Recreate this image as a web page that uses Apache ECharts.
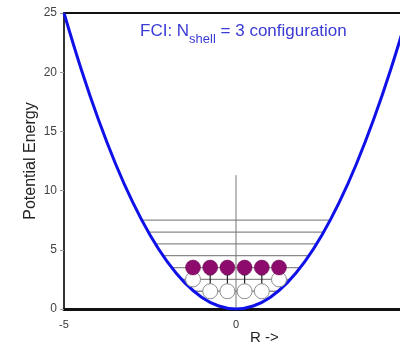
<!DOCTYPE html>
<html>
<head>
<meta charset="utf-8">
<script src="https://cdn.jsdelivr.net/npm/echarts@6/dist/echarts.min.js"></script>
<style>
  html, body { margin: 0; padding: 0; background: #fff; }
  #cht { width: 400px; height: 345px; }
</style>
</head>
<body>
<div id="cht"></div>
<script>
// potential curve (R, energy)
var curveR = [-5, -4.5, -4, -3.5, -3, -2.5, -2, -1.5, -1, -0.5, 0, 0.5, 1, 1.5, 2, 2.5, 3, 3.5, 4, 4.5, 5];
var curveV = [25, 20.25, 16, 12.25, 9, 6.25, 4, 2.25, 1, 0.25, 0, 0.25, 1, 2.25, 4, 6.25, 9, 12.25, 16, 20.25, 25];

// energy levels and their half widths (where they meet the curve)
var levelE = [1.5, 2.5, 3.5, 4.5, 5.5, 6.5, 7.5];
var levelHalf = [1.22, 1.58, 1.87, 2.12, 2.35, 2.55, 2.74];

// central marker line
var centerTop = 11.3;

// filled (occupied) orbitals
var filledR = [-1.25, -0.75, -0.25, 0.25, 0.75, 1.25];
var filledE = [3.5, 3.5, 3.5, 3.5, 3.5, 3.5];

// empty orbitals
var emptyR = [-1.25, 1.25, -0.75, -0.25, 0.25, 0.75];
var emptyE = [2.5, 2.5, 1.5, 1.5, 1.5, 1.5];

// excitation links
var linkR = [-0.75, -0.25, 0.25, 0.75];
var linkTop = 3.1;
var linkBottom = 1.9;

var series = [];

series.push({
  type: 'line',
  data: curveR.map(function (r, i) { return [r, curveV[i]]; }),
  smooth: 0.4,
  showSymbol: false,
  lineStyle: { color: '#1010e8', width: 3 },
  z: 5,
  silent: true
});

levelE.forEach(function (e, i) {
  series.push({
    type: 'line',
    data: [[-levelHalf[i], e], [levelHalf[i], e]],
    showSymbol: false,
    lineStyle: { color: '#8a8a8a', width: 1.3 },
    z: 2,
    silent: true
  });
});

series.push({
  type: 'line',
  data: [[0, 0], [0, centerTop]],
  showSymbol: false,
  lineStyle: { color: '#777', width: 1 },
  z: 2,
  silent: true
});

linkR.forEach(function (r) {
  series.push({
    type: 'line',
    data: [[r, linkTop], [r, linkBottom]],
    showSymbol: false,
    lineStyle: { color: '#222', width: 1.2 },
    z: 3,
    silent: true
  });
});

series.push({
  type: 'scatter',
  data: linkR.map(function (r) { return [r, linkTop]; }),
  symbol: 'rect',
  symbolSize: 5,
  itemStyle: { color: '#fff', borderColor: '#222', borderWidth: 1, opacity: 1 },
  z: 4,
  silent: true
});

series.push({
  type: 'scatter',
  data: emptyR.map(function (r, i) { return [r, emptyE[i]]; }),
  symbolSize: 15,
  itemStyle: { color: '#fff', borderColor: '#8c8c8c', borderWidth: 1, opacity: 1 },
  z: 6,
  silent: true
});

series.push({
  type: 'scatter',
  data: filledR.map(function (r, i) { return [r, filledE[i]]; }),
  symbolSize: 15,
  itemStyle: { color: '#8c0b6c', borderColor: '#6a0a52', borderWidth: 0.5, opacity: 1 },
  z: 7,
  silent: true
});

var option = {
  animation: false,
  textStyle: { fontFamily: 'Liberation Sans, Arial, sans-serif' },
  grid: {
    left: 64, top: 13, width: 344, height: 296,
    outerBoundsMode: 'none',
    containLabel: false,
    show: true, borderColor: '#111', borderWidth: 2
  },
  xAxis: {
    type: 'value', min: -5, max: 5, interval: 5,
    axisLine: { show: true, onZero: false, lineStyle: { color: '#111', width: 3 } },
    axisTick: { show: false },
    splitLine: { show: false },
    axisLabel: { color: '#333', fontSize: 11, margin: 10 }
  },
  yAxis: {
    type: 'value', min: 0, max: 25, interval: 5,
    name: 'Potential Energy',
    nameLocation: 'middle',
    nameGap: 25,
    nameMoveOverlap: false,
    nameTextStyle: { color: '#222', fontSize: 16 },
    axisLine: { show: true, onZero: false, lineStyle: { color: '#333', width: 2 } },
    axisTick: { show: true, length: 4, lineStyle: { color: '#999' } },
    splitLine: { show: false },
    axisLabel: { color: '#444', fontSize: 12, margin: 7 }
  },
  graphic: [
    {
      type: 'text', left: 140, top: 23,
      style: {
        text: '{a|FCI: N}{s|shell}{a| = 3 configuration}',
        rich: {
          a: { fontSize: 17, fill: '#3b3bd6', lineHeight: 23, verticalAlign: 'top', fontFamily: 'Liberation Sans' },
          s: { fontSize: 13, fill: '#3b3bd6', lineHeight: 23, verticalAlign: 'bottom', fontFamily: 'Liberation Sans' }
        }
      }
    },
    {
      type: 'text', left: 250, top: 330,
      style: { text: 'R ->', fontSize: 15, fill: '#222', fontFamily: 'Liberation Sans' }
    }
  ],
  series: series
};

window.onload = function () {
  var myChart = echarts.init(document.getElementById('cht'));
  myChart.setOption(option);
};
</script>
</body>
</html>
